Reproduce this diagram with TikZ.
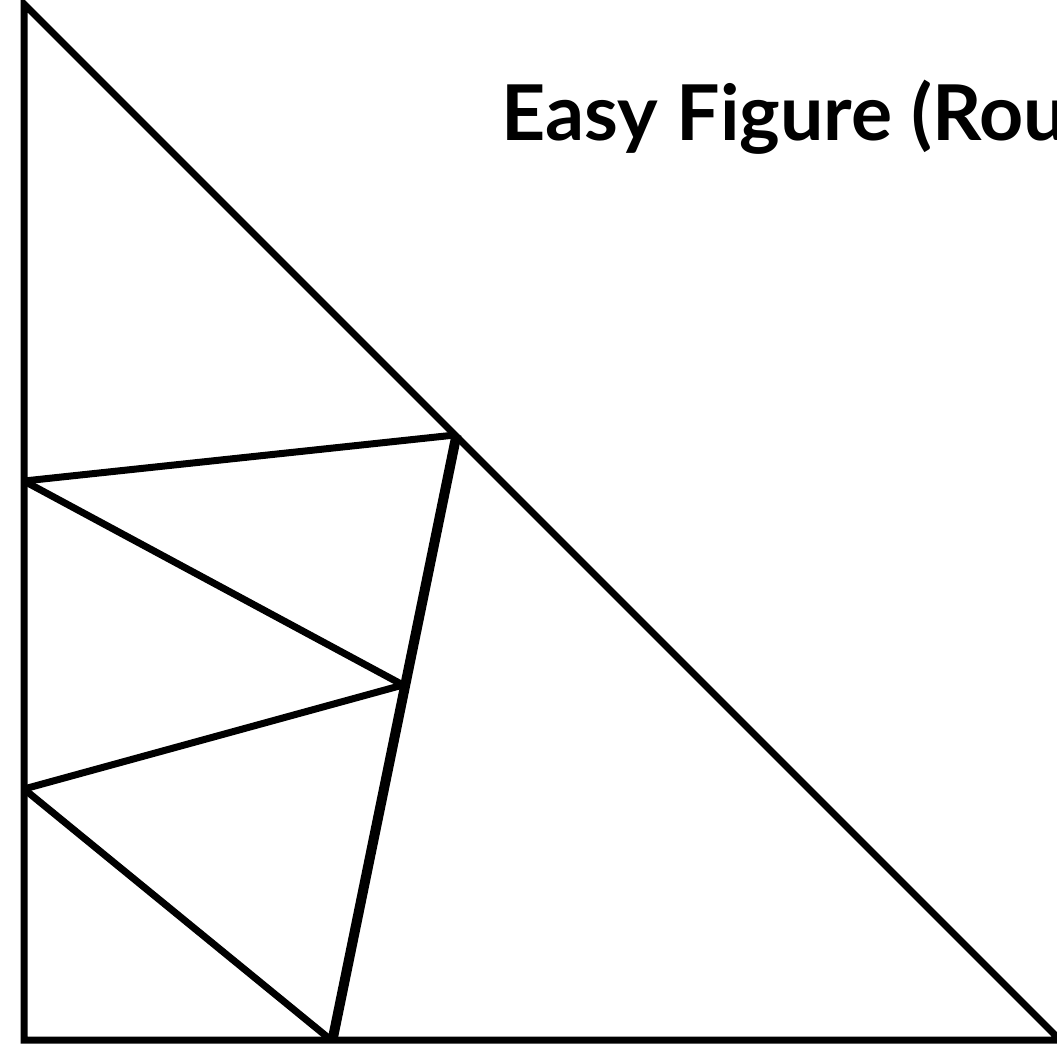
\documentclass[tikz,border=0pt]{standalone}
\usepackage{fontspec}
\setmainfont{Lato}
\tikzset{
  edge/.style={line width=7pt, line join=miter, line cap=butt, black},
  title/.style={font=\fontsize{77}{84}\selectfont\bfseries, anchor=base west, inner sep=0pt, outer sep=0pt}
}
\begin{document}
\begin{tikzpicture}[x=1pt,y=-1pt]
\useasboundingbox (0,0) rectangle (1057,1047);
\coordinate (T) at (24,4);
\coordinate (C) at (24,1040);
\coordinate (R) at (1060,1040);
\coordinate (A) at (455,435);
\coordinate (A2) at (458,435);
\coordinate (L1) at (24,481);
\coordinate (P) at (403,685);
\coordinate (L2) at (24,789);
\coordinate (B) at (331,1040);
\coordinate (B2) at (334,1040);
\draw[edge] (T) -- (C) -- (R) -- cycle;
\draw[edge] (L1) -- (A);
\draw[edge] (L1) -- (P);
\draw[edge] (P) -- (L2);
\draw[edge] (L2) -- (B);
\draw[edge] (A) -- (B);
\draw[edge] (A2) -- (B2);
\node[title] (t) at (501,140) {Easy Figure (Rou};
\end{tikzpicture}
\end{document}
